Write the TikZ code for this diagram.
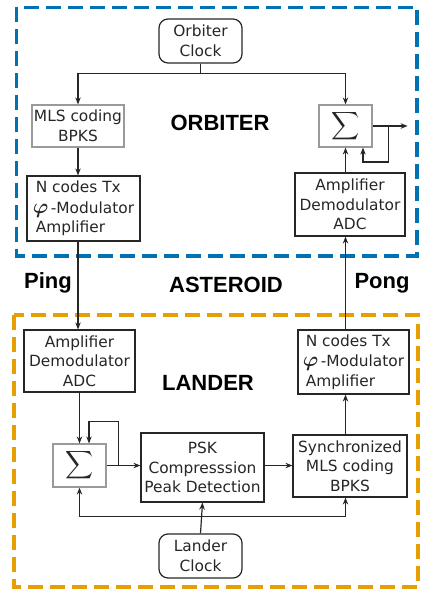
\documentclass[tikz,border=0pt]{standalone}
\usepackage{fontspec}
\setmainfont{DejaVu Sans}
\newfontfamily\labfont{Liberation Sans}
\usetikzlibrary{arrows.meta,calc}
\definecolor{oblue}{HTML}{0072B2}
\definecolor{oorange}{HTML}{E69F00}
\definecolor{ink}{HTML}{262626}
\definecolor{gborder}{HTML}{9A9A9A}
\newcommand{\phimark}{{\fontsize{22}{22}\selectfont\boldmath$\varphi$}}
\newcommand{\sumsign}{\scalebox{1.95}{$\displaystyle\sum$}}
\begin{document}
\begin{tikzpicture}[x=1pt,y=-1pt,
  blk/.style={draw=ink, line width=1.2pt, inner sep=0pt, align=center, font=\fontsize{15.4}{19.5}\selectfont, text=ink},
  gblk/.style={blk, draw=gborder},
  clk/.style={blk, rounded corners=9pt},
  conn/.style={draw=ink, line width=1.2pt},
  arr/.style={conn, -{Stealth[length=7pt,width=5.5pt]}},
  region/.style={line width=3.5pt, dash pattern=on 15pt off 7pt},
  big/.style={font=\labfont\bfseries\fontsize{22}{26}\selectfont, text=black}
]
\useasboundingbox (0,0) rectangle (422,592);
% regions
\draw[region, oblue] (16.7,7.3) rectangle (417,256);
\draw[region, oorange] (14,315) rectangle (418,587);
% orbiter
\node[clk, minimum width=83pt, minimum height=44pt] (oclock) at (200.5,41) {Orbiter\\Clock};
\node[gblk, minimum width=92pt, minimum height=42pt] (omls) at (78,126) {MLS coding\\BPKS};
\node[big] (orbl) at (220,123) {ORBITER};
\node[gblk, minimum width=53pt, minimum height=42pt] (osum) at (345.5,126) {\sumsign};
\node[blk, minimum width=110pt, minimum height=63pt] (oamp) at (350,204.5) {Amplifier\\Demodulator\\ADC};
\node[blk, align=left, minimum width=113pt, minimum height=65pt] (otx) at (83.5,208.5) {\hspace{3pt}N codes Tx\\[1pt]\phimark\,-Modulator\\\hspace{3pt}Amplifier};
% middle labels
\node[big] (ping) at (48,283) {Ping};
\node[big] (ast) at (226,285) {ASTEROID};
\node[big] (pong) at (382,283) {Pong};
% lander
\node[blk, minimum width=111pt, minimum height=62pt] (lamp) at (79.5,361) {Amplifier\\Demodulator\\ADC};
\node[big] (landl) at (208,383) {LANDER};
\node[blk, align=left, minimum width=111pt, minimum height=64pt] (ltx) at (353.5,362) {\hspace{3pt}N codes Tx\\[1pt]\phimark\,-Modulator\\\hspace{3pt}Amplifier};
\node[gblk, minimum width=53pt, minimum height=43pt] (lsum) at (79.5,465.5) {\sumsign};
\node[blk, minimum width=123pt, minimum height=69pt] (psk) at (202.5,467.5) {PSK\\Compresssion\\Peak Detection};
\node[blk, minimum width=114pt, minimum height=62pt] (sync) at (350,466) {Synchronized\\MLS coding\\BPKS};
\node[clk, minimum width=83pt, minimum height=44pt] (lclock) at (200.5,556) {Lander\\Clock};
% orbiter connectors
\draw[conn] (oclock.south) -- ++(0,10) coordinate (ob);
\draw[arr] (ob) -| (omls.north);
\draw[arr] (ob) -| (osum.north);
\draw[arr] (omls.south) -- (omls.south |- otx.north);
\draw[arr] (otx.south -| omls.south) -- (omls.south |- lamp.north);
\draw[arr] (ltx.north -| osum.south) -- (osum.south |- oamp.south);
\draw[arr] (oamp.north -| osum.south) -- (osum.south);
\draw[arr] (osum.east) -- ++(35,0) coordinate (oout);
\draw[arr] ($(osum.east)+(16,0)$) -- ++(0,36) -| ($(osum.south)+(17.5,0)$);
% lander connectors
\draw[arr] (lamp.south) -- (lsum.north);
\draw[arr] (lsum.east) -- (lsum.east -| psk.west);
\draw[arr] ($(lsum.east)+(12,0)$) -- ++(0,-44) -| ($(lsum.north)+(9.5,0)$);
\draw[arr] (psk.east |- lsum.east) -- (sync.west |- lsum.east);
\draw[arr] (sync.north -| osum.south) -- (osum.south |- ltx.south);
\draw[arr] (lclock.north) -- (psk.south);
\coordinate (lbus) at ($(lclock.north)+(0,-17)$);
\draw[arr] (lbus) -| (lsum.south);
\draw[arr] (lbus) -| (osum.south |- sync.south);
\end{tikzpicture}
\end{document}
